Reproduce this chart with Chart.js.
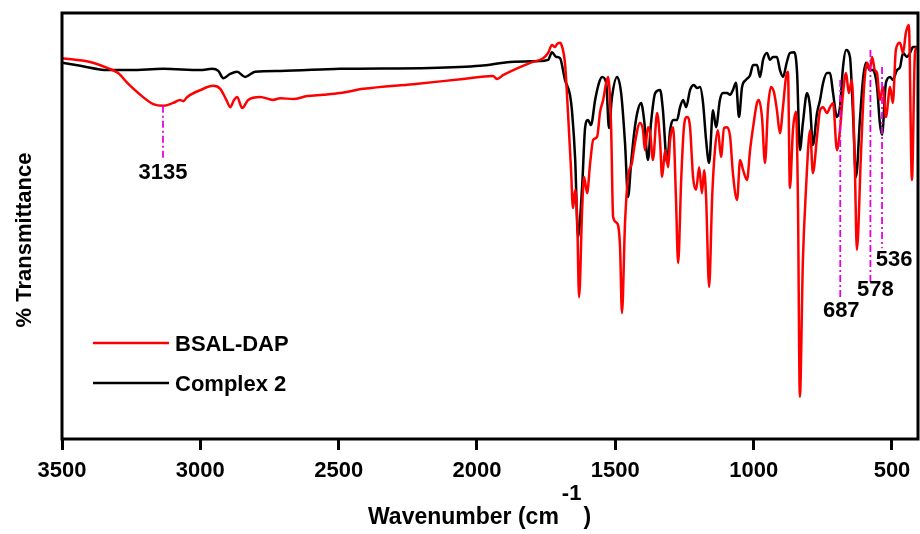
<!DOCTYPE html>
<html>
<head>
<meta charset="utf-8">
<script src="https://cdn.jsdelivr.net/npm/chart.js@4.4.1/dist/chart.umd.min.js"></script>
<style>
  html, body { margin: 0; padding: 0; background: #fff; }
  #wrap { width: 920px; height: 534px; position: relative; }
</style>
</head>
<body>
<div id="wrap"><canvas id="chartIR"></canvas></div>
<script>
// ---- data (wavenumber in cm-1, % transmittance, arbitrary scale) ----
const xTicks = [3500, 3000, 2500, 2000, 1500, 1000, 500];

const bsalWn = [3499, 3398, 3336, 3297, 3264, 3217, 3170, 3134, 3098, 3073, 3062, 3047, 3000, 2953, 2928, 2906, 2892, 2878, 2867, 2849,
  2827, 2784, 2737, 2711, 2664, 2614, 2556, 2495, 2411, 2231, 2050, 1942, 1927, 1906, 1808, 1761, 1743, 1729, 1718, 1711,
  1700, 1692, 1682, 1671, 1660, 1653, 1645, 1638, 1631, 1620, 1613, 1602, 1591, 1580, 1566, 1555, 1544, 1533, 1526, 1515,
  1508, 1494, 1483, 1476, 1465, 1454, 1440, 1429, 1411, 1400, 1393, 1382, 1374, 1364, 1349, 1338, 1331, 1320, 1309, 1302,
  1291, 1281, 1273, 1262, 1252, 1241, 1230, 1219, 1208, 1197, 1187, 1179, 1172, 1161, 1150, 1140, 1129, 1118, 1107, 1096,
  1085, 1075, 1060, 1049, 1038, 1024, 1013, 1002, 988, 981, 970, 959, 948, 937, 926, 916, 905, 894, 883, 876,
  869, 858, 847, 840, 833, 822, 811, 796, 786, 771, 760, 749, 735, 724, 713, 699, 688, 677, 666, 656,
  645, 634, 627, 612, 601, 590, 580, 572, 562, 554, 544, 533, 522, 507, 497, 486, 471, 460, 450, 439,
  428, 417, 410];
const bsalT = [89.4, 88.5, 87.1, 85.9, 83.6, 80.8, 78.6, 78.2, 78.9, 79.6, 79.3, 80.3, 81.9, 82.9, 82.2, 79.6, 77.9, 79.6, 80.3, 77.7,
  79.6, 80.3, 79.6, 80.0, 79.8, 80.5, 80.8, 81.2, 82.2, 83.3, 84.5, 85.2, 84.5, 85.4, 88.3, 89.4, 90.6, 92.5, 92.0, 92.7,
  93.0, 92.0, 88.3, 76.5, 63.1, 54.2, 58.5, 52.1, 33.3, 53.8, 61.5, 57.7, 64.8, 70.2, 70.9, 76.8, 79.6, 83.6, 85.0, 72.5,
  52.1, 50.7, 45.1, 29.6, 50.7, 61.5, 64.8, 69.5, 74.2, 72.5, 67.8, 73.2, 71.8, 65.5, 76.5, 69.5, 61.5, 67.8, 63.8, 70.2,
  73.2, 56.8, 41.3, 60.8, 73.2, 75.6, 73.2, 61.5, 58.5, 63.8, 57.7, 63.1, 56.8, 35.7, 56.8, 67.8, 72.5, 66.2, 73.0, 73.2,
  70.9, 62.4, 56.1, 65.5, 63.1, 60.8, 67.8, 73.2, 78.9, 79.6, 75.6, 64.8, 77.9, 82.6, 81.2, 77.2, 71.8, 77.9, 85.0, 86.2,
  58.9, 72.5, 76.8, 56.1, 9.9, 42.0, 58.5, 72.5, 62.4, 70.9, 77.2, 77.9, 76.5, 77.9, 78.9, 67.8, 72.5, 81.2, 85.9, 81.2,
  84.3, 63.1, 44.4, 67.1, 82.6, 88.3, 86.6, 89.7, 86.6, 85.9, 79.6, 82.6, 75.6, 82.6, 78.9, 91.3, 93.0, 90.6, 95.3, 97.2,
  60.8, 90.6, 92.0];

const complexWn = [3499, 3434, 3336, 3253, 3134, 3000, 2957, 2935, 2917, 2892, 2867, 2838, 2802, 2711, 2495, 2169, 1989, 1880, 1783, 1743,
  1729, 1714, 1700, 1682, 1664, 1656, 1645, 1635, 1620, 1609, 1599, 1588, 1573, 1559, 1548, 1533, 1523, 1512, 1494, 1479,
  1465, 1454, 1443, 1432, 1421, 1407, 1396, 1382, 1371, 1356, 1338, 1328, 1313, 1302, 1291, 1277, 1266, 1255, 1244, 1230,
  1216, 1205, 1194, 1183, 1172, 1161, 1147, 1136, 1122, 1111, 1096, 1085, 1075, 1064, 1053, 1042, 1028, 1013, 1002, 988,
  977, 966, 952, 941, 930, 916, 905, 894, 880, 869, 854, 843, 833, 822, 807, 796, 786, 771, 760, 749,
  735, 724, 713, 699, 688, 677, 666, 652, 641, 630, 616, 605, 594, 580, 569, 554, 544, 536, 522, 507,
  497, 482, 471, 460, 446, 435, 424, 410];
const complexT = [88.3, 87.6, 86.6, 86.6, 86.9, 86.6, 86.9, 86.4, 84.7, 85.7, 86.2, 85.0, 86.2, 86.4, 86.9, 87.1, 87.6, 88.5, 88.7, 89.0,
  90.8, 89.7, 89.4, 84.3, 80.8, 76.5, 65.5, 47.4, 59.2, 73.2, 74.9, 73.7, 79.6, 83.6, 85.0, 83.6, 73.0, 80.3, 85.0, 81.2,
  69.5, 56.8, 64.8, 71.8, 76.5, 78.9, 74.9, 65.5, 74.2, 81.2, 81.9, 77.2, 64.8, 72.5, 74.9, 74.9, 77.9, 79.6, 77.9, 81.9,
  83.1, 82.4, 82.6, 78.9, 70.2, 64.8, 77.2, 73.2, 79.6, 81.2, 81.2, 80.8, 81.9, 83.6, 75.6, 82.6, 84.3, 85.4, 87.8, 87.8,
  85.0, 89.0, 90.6, 89.0, 89.7, 89.7, 86.6, 85.0, 88.5, 90.6, 90.8, 85.9, 67.8, 74.2, 81.2, 77.9, 69.0, 76.5, 79.6, 83.6,
  85.9, 85.9, 81.2, 75.6, 77.9, 87.3, 91.3, 89.7, 76.5, 61.5, 74.9, 84.3, 88.3, 86.6, 86.6, 82.6, 74.2, 71.4, 83.6, 85.0,
  84.3, 86.6, 87.3, 90.6, 89.7, 90.6, 92.0, 92.0];

// marked peaks: position, top and bottom of the dash-dot marker
const peakWn = [3135, 687, 578, 536];
const peakTop = [78.2, 84.3, 91.3, 87.3];
const peakBottom = [66.0, 32.6, 36.6, 44.8];
const peakLabels = ["3135", "687", "578", "536"];

const seriesNames = ["BSAL-DAP", "Complex 2"];
const seriesColors = ["#ff0000", "#000000"];

const FONT = '"Liberation Sans", Arial, Helvetica, sans-serif';

function toPoints(xs, ys) {
  const out = [];
  for (let i = 0; i < xs.length; i++) out.push({ x: xs[i], y: ys[i] });
  return out;
}

// frame + texts that chart.js can't place the way the figure does
const decorPlugin = {
  id: "decor",
  afterDatasetsDraw(chart) {
    const c = chart.ctx;
    const a = chart.chartArea;
    c.save();
    c.strokeStyle = "#000";
    c.lineWidth = 3;
    c.strokeRect(a.left, a.top, a.right - a.left, a.bottom - a.top);
    c.restore();
  },
  afterDraw(chart) {
    const c = chart.ctx;
    const xs = chart.scales.x;
    const ys = chart.scales.y;
    c.save();
    c.fillStyle = "#000";
    c.font = "bold 22px " + FONT;

    // peak labels, just under their markers
    const dx = [0, 1, 5, 12];
    const dy = [15, 11, 7, 12];
    c.textAlign = "center";
    c.textBaseline = "middle";
    for (let i = 0; i < peakWn.length; i++) {
      const px = xs.getPixelForValue(peakWn[i]) + dx[i];
      const py = ys.getPixelForValue(peakBottom[i]) + dy[i];
      c.fillText(peakLabels[i], px, py);
    }

    // legend
    const legY = [345, 385];
    for (let i = 0; i < seriesNames.length; i++) {
      c.strokeStyle = seriesColors[i];
      c.lineWidth = 2.5;
      c.beginPath();
      c.moveTo(93, legY[i] - 2);
      c.lineTo(169, legY[i] - 2);
      c.stroke();
      c.textAlign = "left";
      c.fillText(seriesNames[i], 175, legY[i]);
    }

    // y title
    c.save();
    c.translate(25, 240);
    c.rotate(-Math.PI / 2);
    c.textAlign = "center";
    c.fillText("% Transmittance", 0, 0);
    c.restore();

    // x title with superscript
    c.font = "bold 23px " + FONT;
    c.textAlign = "left";
    const main = "Wavenumber (cm";
    const x0 = 368;
    c.fillText(main, x0, 518);
    const w = c.measureText(main).width;
    c.font = "bold 22px " + FONT;
    c.fillText("-1", x0 + w + 3, 494);
    const w2 = c.measureText("-1").width;
    c.font = "bold 23px " + FONT;
    c.fillText(")", x0 + w + w2 + 5, 518);
    c.restore();
  }
};

const datasets = [];
for (let i = 0; i < peakWn.length; i++) {
  datasets.push({
    label: "peak " + peakLabels[i],
    data: [{ x: peakWn[i], y: peakTop[i] }, { x: peakWn[i], y: peakBottom[i] }],
    borderColor: "#e600e6",
    borderWidth: 1.8,
    borderDash: [7, 3, 2, 3],
    pointRadius: 0,
    fill: false
  });
}
datasets.push({
  label: seriesNames[0],
  data: toPoints(bsalWn, bsalT),
  borderColor: seriesColors[0],
  borderWidth: 2.5,
  pointRadius: 0,
  cubicInterpolationMode: "monotone",
  fill: false
});
datasets.push({
  label: seriesNames[1],
  data: toPoints(complexWn, complexT),
  borderColor: seriesColors[1],
  borderWidth: 2.5,
  pointRadius: 0,
  cubicInterpolationMode: "monotone",
  fill: false
});

new Chart(document.getElementById("chartIR"), {
  type: "line",
  data: { datasets: datasets },
  options: {
    responsive: true,
    maintainAspectRatio: false,
    animation: false,
    layout: { padding: { left: 62, top: 13, right: 2, bottom: 0 } },
    plugins: {
      legend: { display: false },
      tooltip: { enabled: false }
    },
    scales: {
      x: {
        type: "linear",
        reverse: true,
        min: 406,
        max: 3500,
        afterBuildTicks: function (s) {
          s.ticks = xTicks.map(function (v) { return { value: v }; });
        },
        afterFit: function (s) { s.height = 95; },
        border: { display: false },
        grid: {
          display: true,
          drawOnChartArea: false,
          drawTicks: true,
          tickLength: 11,
          tickWidth: 3,
          tickColor: "#000"
        },
        ticks: {
          color: "#000",
          font: { family: FONT, size: 22, weight: "bold" },
          padding: 8,
          maxRotation: 0,
          autoSkip: false,
          callback: function (v) { return String(v); }
        }
      },
      y: {
        display: false,
        min: 0,
        max: 100
      }
    }
  },
  plugins: [decorPlugin]
});
</script>
</body>
</html>
